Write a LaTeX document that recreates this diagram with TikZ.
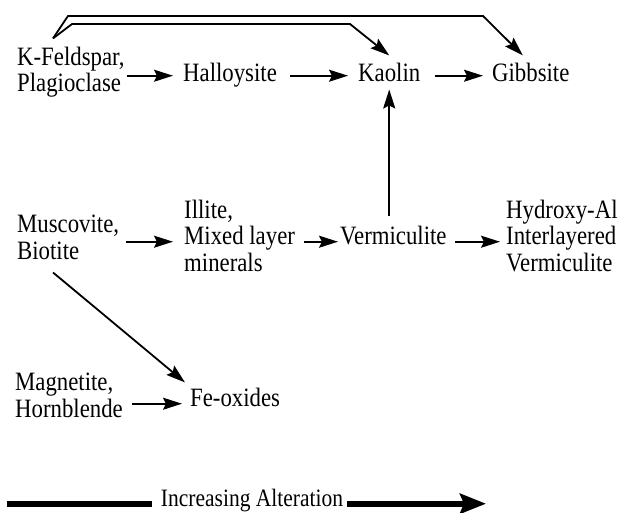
\documentclass[tikz,border=0pt]{standalone}
\usepackage{fontspec}
\setmainfont{Liberation Serif}[FakeStretch=0.86]
\usetikzlibrary{arrows.meta,calc}
\begin{document}
\begin{tikzpicture}[x=1pt,y=-1pt,
  lbl/.style={inner sep=0pt, anchor=base west, align=left, font=\fontsize{26.5}{26.5}\selectfont},
  arr/.style={line width=1.8pt, -{Stealth[length=19pt,width=12pt,inset=3pt]}},
  bigline/.style={line width=6pt},
  bigarr/.style={line width=6pt, -{Stealth[length=26pt,width=20pt,inset=4pt]}}]
\useasboundingbox (0,0) rectangle (623,512);
% nodes (multi-line nodes are placed by the baseline of their last line)
\node[lbl] (kf)  at (17,91.5)  {K-Feldspar,\\Plagioclase};
\node[lbl] (hal) at (183,81) {Halloysite};
\node[lbl] (kao) at (358,81) {Kaolin};
\node[lbl] (gib) at (492,81) {Gibbsite};
\node[lbl] (mus) at (17,259) {Muscovite,\\Biotite};
\node[lbl] (ill) at (184,271) {Illite,\\Mixed layer\\minerals};
\node[lbl] (ver) at (340,244) {Vermiculite};
\node[lbl] (hyd) at (506,271) {Hydroxy-Al\\Interlayered\\Vermiculite};
\node[lbl] (mag) at (15,417) {Magnetite,\\Hornblende};
\node[lbl] (fe)  at (190,406) {Fe-oxides};
\node[lbl, anchor=base, font=\fontsize{25}{26}\selectfont] (inc) at (252,506) {Increasing Alteration};
% row 1
\draw[arr] ($(kf.east |- hal.mid west)+(2,-3)$) -- ($(hal.mid west)+(-10,-3)$);
\draw[arr] ($(hal.mid east)+(13,-3)$) -- ($(kao.mid west)+(-10,-3)$);
\draw[arr] ($(kao.mid east)+(15,-3)$) -- ($(gib.mid west)+(-9,-3)$);
% top brackets
\coordinate (kfs) at ($(kf.north west)+(36,-8)$);
\draw[arr] (kfs) -- (68,16) -- (483,16) -- ($(gib.north)+(-8,-7)$);
\draw[arr] (kfs) -- (72,24) -- (350,24) -- ($(kao.north)+(0,-7)$);
% vertical
\draw[arr] ($(kao.south |- ver.north)+(0,-9)$) -- ($(kao.south)+(0,8)$);
% row 2
\draw[arr] ($(mus.east |- ver.mid west)+(7,0)$) -- ($(ill.west |- ver.mid west)+(-11,0)$);
\draw[arr] ($(ill.east |- ver.mid west)+(9,0)$) -- ($(ver.mid west)+(-2,0)$);
\draw[arr] ($(ver.mid east)+(8,0)$) -- ($(hyd.west |- ver.mid west)+(-6,0)$);
% diagonal
\draw[arr] ($(mus.south west)+(36,13)$) -- ($(fe.north west)+(-5,-5)$);
% row 3
\draw[arr] ($(mag.east |- fe.mid west)+(9,0)$) -- ($(fe.mid west)+(-8,0)$);
% bottom
\coordinate (L) at (7,500);
\coordinate (R) at (486,500);
\draw[bigline] (L |- inc.mid) -- ($(inc.mid west)+(-9,0)$);
\draw[bigarr] ($(inc.mid east)+(4,0)$) -- (R |- inc.mid);
\end{tikzpicture}
\end{document}
